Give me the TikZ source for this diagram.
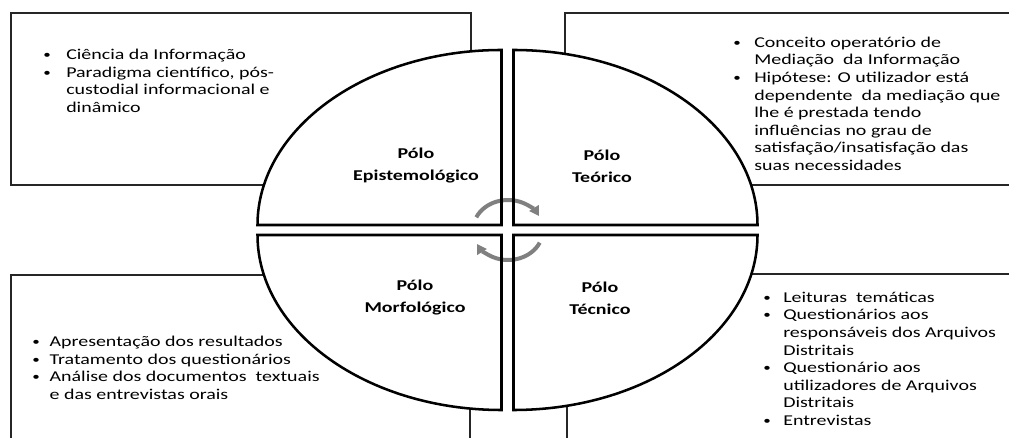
\documentclass[tikz,border=0pt]{standalone}
\usepackage{fontspec}
\setmainfont{Carlito}[FakeStretch=1.33]
\usetikzlibrary{arrows.meta}
\newcommand{\bl}[2]{\makebox[#1][l]{\raisebox{0.9pt}{\fontsize{8.5}{8.5}\selectfont •}}#2}
\newcommand{\ind}[2]{\hspace*{#1}#2}
\begin{document}
\begin{tikzpicture}[x=0.75pt,y=0.75pt,
  box/.style={draw=black!85,line width=1.1pt},
  quad/.style={draw=black,line width=1.9pt,line join=miter},
  txt/.style={inner sep=0pt,align=left,anchor=base west,font=\fontsize{11.25}{13.2}\selectfont},
  pole/.style={inner sep=0pt,align=center,font=\fontsize{11.25}{16.5}\selectfont\bfseries},
  cyc/.style={draw=black!50,line width=3pt,-{Triangle[length=7pt,width=8pt]}}]
\clip (0,0) rectangle (1009,438);
\fill[white] (0,0) rectangle (1009,438);
% boxes
\draw[box] (11,253) rectangle (471,425);
\draw[box] (565,253) rectangle (1030,425);
\draw[box] (11,-20) rectangle (470,163);
\draw[box] (567,-20) rectangle (1030,164);
% quadrants fill
\fill[white] (501.5,213) -- (501.5,388) arc[start angle=90,end angle=180,x radius=244,y radius=175] -- cycle;
\fill[white] (513.5,213) -- (513.5,388) arc[start angle=90,end angle=0,x radius=244,y radius=175] -- cycle;
\fill[white] (501.5,203) -- (501.5,28) arc[start angle=270,end angle=180,x radius=244,y radius=175] -- cycle;
\fill[white] (513.5,203) -- (513.5,28) arc[start angle=270,end angle=360,x radius=244,y radius=175] -- cycle;
% cycle arrows
\coordinate (ca) at (508,208);
\draw[cyc] ([shift={(155:35 and 30)}]ca) arc[start angle=155,end angle=28,x radius=35,y radius=30];
\draw[cyc] ([shift={(-25:35 and 30)}]ca) arc[start angle=-25,end angle=-152,x radius=35,y radius=30];
% quadrant outlines
\draw[quad] (501.5,213) -- (501.5,388) arc[start angle=90,end angle=180,x radius=244,y radius=175] -- cycle;
\draw[quad] (513.5,213) -- (513.5,388) arc[start angle=90,end angle=0,x radius=244,y radius=175] -- cycle;
\draw[quad] (501.5,203) -- (501.5,28) arc[start angle=270,end angle=180,x radius=244,y radius=175] -- cycle;
\draw[quad] (513.5,203) -- (513.5,28) arc[start angle=270,end angle=360,x radius=244,y radius=175] -- cycle;
% pole labels
\node[pole] (pe) at (416,272) {Pólo\\Epistemológico};
\node[pole] (pt) at (602,272) {Pólo\\Teórico};
\node[pole] (pm) at (415,140) {Pólo\\Morfológico};
\node[pole] (pc) at (600,140) {Pólo\\Técnico};
% texts (anchor base = baseline of last line)
\node[txt] (tl) at (43,325.5) {\bl{17.25pt}{Ciência da Informação}\\
\bl{17.25pt}{Paradigma científico, pós-}\\
\ind{17.25pt}{custodial informacional e}\\
\ind{17.25pt}{dinâmico}};
\node[txt] (tr) at (733,267.5) {\bl{15.75pt}{Conceito operatório de}\\
\ind{15.75pt}{Mediação\ \ da Informação}\\
\bl{15.75pt}{Hipótese: O utilizador está}\\
\ind{15.75pt}{dependente\ \ da mediação que}\\
\ind{15.75pt}{lhe é prestada tendo}\\
\ind{15.75pt}{influências no grau de}\\
\ind{15.75pt}{satisfação/insatisfação das}\\
\ind{15.75pt}{suas necessidades}};
\node[txt] (bl) at (32,38.5) {\bl{13pt}{Apresentação dos resultados}\\
\bl{13pt}{Tratamento dos questionários}\\
\bl{13pt}{Análise dos documentos\ \ textuais}\\
\ind{13pt}{e das entrevistas orais}};
\node[txt] (br) at (763,12.5) {\bl{15pt}{Leituras\ \ temáticas}\\
\bl{15pt}{Questionários aos}\\
\ind{15pt}{responsáveis dos Arquivos}\\
\ind{15pt}{Distritais}\\
\bl{15pt}{Questionário aos}\\
\ind{15pt}{utilizadores de Arquivos}\\
\ind{15pt}{Distritais}\\
\bl{15pt}{Entrevistas}};
\end{tikzpicture}
\end{document}
